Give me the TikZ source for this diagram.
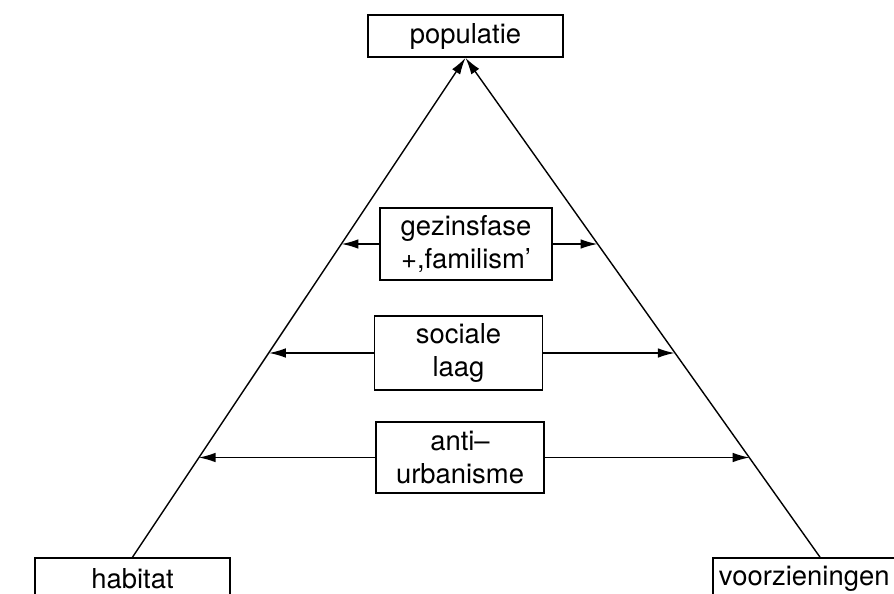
\documentclass[tikz,border=0pt]{standalone}
\usepackage{fontspec}
\setmainfont{TeX Gyre Heros}
\usetikzlibrary{calc,arrows.meta}

\begin{document}
\begin{tikzpicture}[
        x=0.025cm, y=-0.025cm,
        font=\fontsize{19.5}{24}\selectfont,
        box/.style={draw, line width=1.2pt, inner sep=2pt, align=center},
        factor/.style={box, minimum width=4.2cm, minimum height=1.8cm},
        corner/.style={box, minimum width=4.875cm, minimum height=1.05cm},
        side/.style={line width=1pt, -{Latex[length=4.2mm,width=2.4mm]}},
        arrow/.style={line width=1pt, -{Latex[length=4.2mm,width=2.4mm]}}
    ]
    \useasboundingbox (0,0) rectangle (894,593);

    % Corners of the triangle
    \node[corner] (populatie) at (465.5,36) {populatie};
    \node[corner] (habitat) at (132.5,579) {habitat};
    \node[corner, inner xsep=0.15cm, text width=5.05cm, align=left] (voorz) at (820,579) {voorzieningen};

    % Factors in the middle
    \node[factor, minimum width=4.3cm] (gezin) at (466,244) {gezinsfase\\+,familism'};
    \node[factor, minimum height=1.85cm] (sociaal) at (458.5,353) {sociale\\laag};
    \node[factor, minimum height=1.78cm] (anti) at (460,457.5) {anti--\\urbanisme};

    % Sides
    \draw[side] (habitat.north) -- (populatie.south);
    \draw[side] (voorz.north) -- (populatie.south);

    % Points on the sides
    \coordinate (gzL) at ($(populatie.south)!0.372!(habitat.north)$);
    \coordinate (gzR) at ($(populatie.south)!0.372!(voorz.north)$);
    \coordinate (slL) at ($(populatie.south)!0.59!(habitat.north)$);
    \coordinate (slR) at ($(populatie.south)!0.59!(voorz.north)$);
    \coordinate (auL) at ($(populatie.south)!0.801!(habitat.north)$);
    \coordinate (auR) at ($(populatie.south)!0.801!(voorz.north)$);

    % Arrows
    \draw[arrow] (gezin.west) -- (gezin.west -| gzL);
    \draw[arrow] (gezin.east) -- (gezin.east -| gzR);
    \draw[arrow] (sociaal.west) -- (sociaal.west -| slL);
    \draw[arrow] (sociaal.east) -- (sociaal.east -| slR);
    \draw[arrow] (anti.west) -- (anti.west -| auL);
    \draw[arrow] (anti.east) -- (anti.east -| auR);

\end{tikzpicture}
\end{document}
